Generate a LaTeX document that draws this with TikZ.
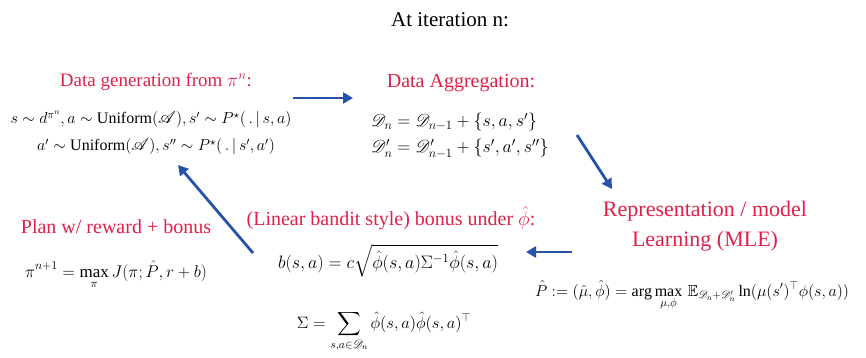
\RequirePackage{fix-cm}
\documentclass[tikz,border=0pt]{standalone}
\usepackage{amsmath,amssymb}
\usepackage{mathrsfs}
\usepackage{fontspec}
\setmainfont{Liberation Serif}
\usetikzlibrary{arrows.meta}
\definecolor{lblred}{RGB}{224,32,72}
\definecolor{arrblue}{RGB}{38,82,170}
\tikzset{
  lbl/.style={text=lblred, inner sep=0pt, font=\fontsize{20}{24}\selectfont},
  eqn/.style={inner sep=0pt, font=\fontsize{16}{19}\selectfont},
  flow/.style={draw=arrblue, line width=2.8pt, -{Triangle[length=10pt,width=11pt]}}
}
\begin{document}
\begin{tikzpicture}[x=1pt,y=-1pt]
\useasboundingbox (0,0) rectangle (866,358);
% title
\node[inner sep=0pt, font=\fontsize{21}{25}\selectfont] (title) at (450,20) {At iteration n:};
% data generation
\node[lbl, font=\fontsize{19}{23}\selectfont] (gen) at (156,82) {Data generation from $\pi^n$:};
\node[eqn, anchor=base] (gen1) at (151,124) {$s\sim d^{\pi^n}, a\sim \text{Uniform}(\mathscr{A}), s'\sim P^\star(\,.\,|\,s,a)$};
\node[eqn, anchor=base] (gen2) at (156,151) {$a'\sim \text{Uniform}(\mathscr{A}), s''\sim P^\star(\,.\,|\,s',a')$};
% data aggregation
\node[lbl] (agg) at (461,83) {Data Aggregation:};
\node[eqn, anchor=base west, font=\fontsize{18}{21}\selectfont] (agg1) at (371,127) {$\mathscr{D}_n=\mathscr{D}_{n-1}+\{s,a,s'\}$};
\node[eqn, anchor=base west, font=\fontsize{18}{21}\selectfont] (agg2) at (371,153) {$\mathscr{D}'_n=\mathscr{D}'_{n-1}+\{s',a',s''\}$};
% representation learning
\node[lbl, align=center, font=\fontsize{22}{30}\selectfont] (rep) at (705,226) {Representation / model\\Learning (MLE)};
\node[eqn, anchor=base] (phat) at (692,296) {$\displaystyle \hat P := (\hat\mu,\hat\phi) = \arg\max_{\mu,\phi}\, \mathbb{E}_{\mathscr{D}_n+\mathscr{D}'_n} \ln(\mu(s')^{\top}\phi(s,a))$};
% bonus
\node[lbl] (bon) at (391,218) {(Linear bandit style) bonus under $\hat\phi$:};
\node[eqn, anchor=base, font=\fontsize{18}{21}\selectfont] (bform) at (388,268) {$b(s,a)=c\sqrt{\hat\phi(s,a)\Sigma^{-1}\hat\phi(s,a)}$};
\node[eqn, anchor=base, font=\fontsize{16.5}{20}\selectfont] (sig) at (384,328) {$\displaystyle \Sigma = \sum_{s,a\in\mathscr{D}_n} \hat\phi(s,a)\hat\phi(s,a)^{\top}$};
% plan
\node[lbl] (plan) at (116,227) {Plan w/ reward + bonus};
\node[eqn, anchor=base, font=\fontsize{17}{20}\selectfont] (piform) at (116,277) {$\displaystyle \pi^{n+1}=\max_{\pi} J(\pi;\hat P, r+b)$};
% arrows
\coordinate (a1s) at (293,98);  \coordinate (a1e) at (353,98);
\coordinate (a2s) at (577,135); \coordinate (a2e) at (612,189);
\coordinate (a3s) at (572,252); \coordinate (a3e) at (526,252);
\coordinate (a4s) at (253,253); \coordinate (a4e) at (178,165);
\draw[flow] (a1s) -- (a1e);
\draw[flow] (a2s) -- (a2e);
\draw[flow] (a3s) -- (a3e);
\draw[flow] (a4s) -- (a4e);
\end{tikzpicture}
\end{document}
